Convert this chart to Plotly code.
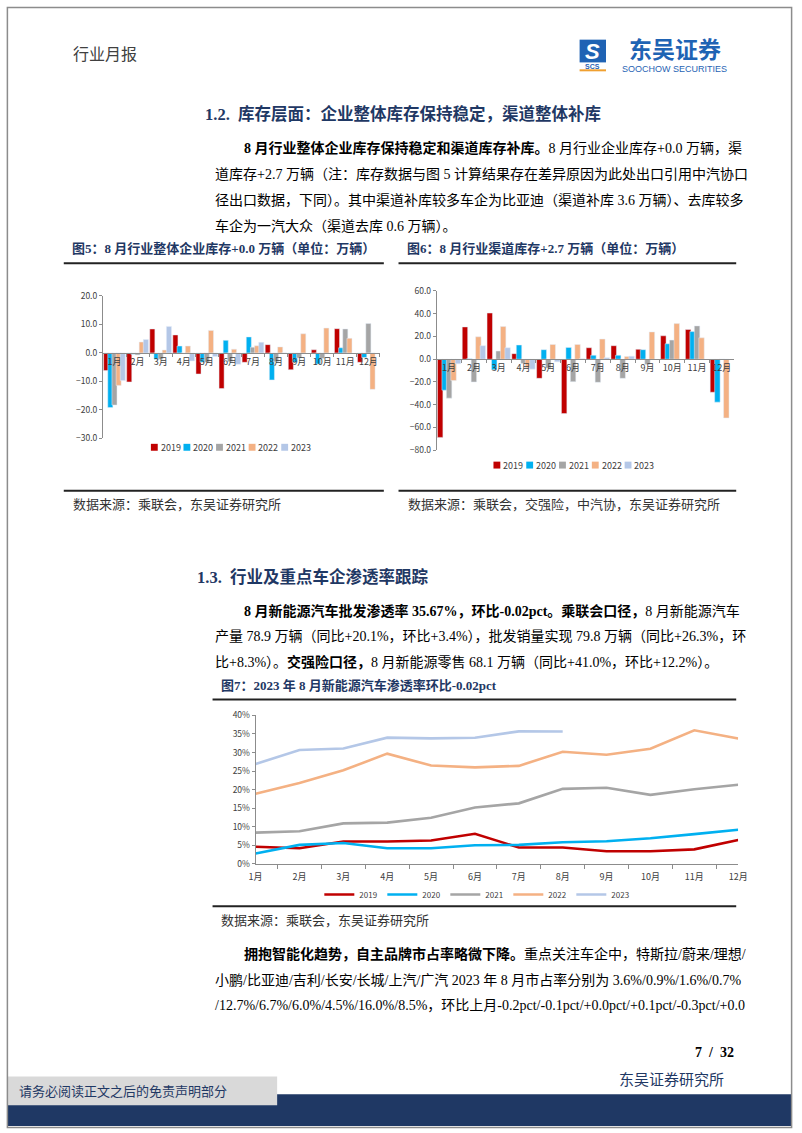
import plotly.graph_objects as go

W, H = 802, 1133

def px(x):
    return x / W

def py(y):
    return 1 - y / H

# ---------------- data ----------------
months = ["1月", "2月", "3月", "4月", "5月", "6月", "7月", "8月", "9月", "10月", "11月", "12月"]
years = ["2019", "2020", "2021", "2022", "2023"]
colors = ["#C00000", "#00B0F0", "#A5A5A5", "#F4B183", "#B4C7E7"]

# Fig5: enterprise inventory change (10k units)
ent_2019 = [-6.2, -10.2, 8.4, 6.3, -7.4, -12.5, -3.3, 2.9, -5.9, 1.1, 8.5, -3.3]
ent_2020 = [-19.2, -0.5, -2.2, 2.4, -3.3, 4.4, 5.6, -9.5, -3.3, -3.9, 1.8, -1.6]
ent_2021 = [-18.3, -0.7, -2.2, -0.2, -3.3, -3.1, 2.0, -3.1, -1.8, -2.0, 8.4, 10.3]
ent_2022 = [-11.4, 3.8, 1.0, 2.4, 7.9, 1.3, 2.5, 2.1, 6.7, 8.7, 5.1, -12.8]
ent_2023 = [-9.7, 4.7, 9.3, -2.8, -1.3, -4.0, 3.7, 0.0, None, None, None, None]

# Fig6: channel inventory change (10k units)
ch_2019 = [-68.7, 28.4, 40.6, 4.9, -16.8, -47.8, 10.1, 11.9, 8.7, 20.6, 26.1, -29.0]
ch_2020 = [-27.2, 0.5, -9.3, 12.5, 8.4, 10.4, 3.5, 3.5, 8.4, 13.6, 24.3, -37.7]
ch_2021 = [-34.2, -20.0, 7.2, -3.8, -7.8, -19.7, -20.3, -16.8, -4.6, 16.8, 29.3, 0.0]
ch_2022 = [-18.8, 19.7, 28.7, -7.5, 13.0, 13.0, 17.7, 2.3, 24.0, 31.3, 18.8, -51.6]
ch_2023 = [-4.0, 11.9, 10.1, -8.7, -2.3, 0.5, 1.4, 2.7, None, None, None, None]

# Fig7: NEV penetration (%)
pen_2019 = [4.6, 4.2, 6.0, 6.0, 6.3, 8.1, 4.4, 4.4, 3.4, 3.4, 3.9, 6.4]
pen_2020 = [2.8, 5.1, 5.6, 4.2, 4.2, 5.0, 5.1, 5.8, 6.1, 6.9, 8.0, 9.2]
pen_2021 = [8.4, 8.8, 10.9, 11.1, 12.4, 15.2, 16.3, 20.2, 20.5, 18.6, 20.1, 21.3]
pen_2022 = [18.9, 21.8, 25.2, 29.7, 26.5, 26.0, 26.4, 30.2, 29.4, 31.0, 36.0, 33.8]
pen_2023 = [26.9, 30.7, 31.1, 34.0, 33.8, 34.0, 35.7, 35.67, None, None, None, None]

ent = [ent_2019, ent_2020, ent_2021, ent_2022, ent_2023]
ch = [ch_2019, ch_2020, ch_2021, ch_2022, ch_2023]
pen = [pen_2019, pen_2020, pen_2021, pen_2022, pen_2023]

CH_FONT = "Noto Sans CJK SC, Noto Sans, sans-serif"
BODY_FONT = "Liberation Serif, Noto Sans CJK SC, serif"
NAVY = "#1F3864"

# bar styling: slightly overlapping bars like the Excel original
BAR_W = 0.22
BAR_STEP = 0.18
BAR_START = -0.47

fig = go.Figure()

for i, yr in enumerate(years):
    fig.add_trace(go.Bar(x=months, y=ent[i], name=yr, marker_color=colors[i],
                         width=BAR_W, offset=BAR_START + i * BAR_STEP,
                         xaxis="x", yaxis="y", showlegend=False))
for i, yr in enumerate(years):
    fig.add_trace(go.Bar(x=months, y=ch[i], name=yr, marker_color=colors[i],
                         width=BAR_W, offset=BAR_START + i * BAR_STEP,
                         xaxis="x2", yaxis="y2", showlegend=False))
for i, yr in enumerate(years):
    fig.add_trace(go.Scatter(x=months, y=pen[i], name=yr, mode="lines",
                             line=dict(color=colors[i], width=2.6),
                             xaxis="x3", yaxis="y3", legend="legend3"))

tickfont = dict(family=CH_FONT, size=9, color="#404040")
ytickfont = dict(family=CH_FONT, size=8.5, color="#404040")
axcol = "#8C8C8C"

# chart 5 geometry
y5_top, y5_bot, y5_rng = 292, 436, [-30, 20]
zero5 = y5_bot - (0 - y5_rng[0]) / (y5_rng[1] - y5_rng[0]) * (y5_bot - y5_top)
# chart 6 geometry
y6_top, y6_bot, y6_rng = 287, 448, [-80, 60]
zero6 = y6_bot - (0 - y6_rng[0]) / (y6_rng[1] - y6_rng[0]) * (y6_bot - y6_top)

fig.update_layout(
    width=W, height=H, autosize=False,
    margin=dict(l=0, r=0, t=0, b=0),
    paper_bgcolor="white", plot_bgcolor="white",
    barmode="overlay",
    showlegend=True,
    xaxis=dict(domain=[px(98), px(381)], anchor="free", position=py(zero5),
               type="category", showline=True, linecolor=axcol, linewidth=1,
               ticks="outside", ticklen=3, tickcolor=axcol, tickson="boundaries",
               tickangle=0, tickfont=tickfont, showgrid=False, zeroline=False),
    yaxis=dict(domain=[py(y5_bot), py(y5_top)], anchor="x", range=y5_rng, dtick=10,
               tickformat=".1f", showline=True, linecolor=axcol, ticks="outside",
               ticklen=3, tickcolor=axcol, tickfont=ytickfont,
               showgrid=False, zeroline=False),
    xaxis2=dict(domain=[px(439), px(743)], anchor="free", position=py(zero6),
                type="category", showline=True, linecolor=axcol, linewidth=1,
                ticks="outside", ticklen=3, tickcolor=axcol, tickson="boundaries",
                tickangle=0, tickfont=tickfont, showgrid=False, zeroline=False),
    yaxis2=dict(domain=[py(y6_bot), py(y6_top)], anchor="x2", range=y6_rng, dtick=20,
                tickformat=".1f", showline=True, linecolor=axcol, ticks="outside",
                ticklen=3, tickcolor=axcol, tickfont=ytickfont,
                showgrid=False, zeroline=False),
    xaxis3=dict(domain=[px(254), px(747)], anchor="y3", type="category",
                showline=True, linecolor=axcol, ticks="outside", ticklen=4,
                tickcolor=axcol, tickson="boundaries", tickangle=0, tickfont=tickfont,
                ticklabelstandoff=4, showgrid=False, zeroline=False),
    yaxis3=dict(domain=[py(866), py(716)], anchor="x3", range=[0, 40], dtick=5,
                ticksuffix="%", showline=True, linecolor=axcol, ticks="outside",
                ticklen=3, tickcolor=axcol, tickfont=ytickfont,
                showgrid=False, zeroline=False),
    legend3=dict(orientation="h", x=px(480), xanchor="center", y=py(897), yanchor="middle",
                 font=dict(family=CH_FONT, size=8, color="#404040"), bgcolor="rgba(0,0,0,0)",
                 itemwidth=30, entrywidth=18, tracegroupgap=0),
)

shapes = []
ann = []

def line(x0, y0, x1, y1, color="#222", width=2):
    shapes.append(dict(type="line", xref="paper", yref="paper",
                       x0=px(x0), y0=py(y0), x1=px(x1), y1=py(y1),
                       line=dict(color=color, width=width)))

def rect(x0, y0, x1, y1, fill, lc=None, lw=0, layer="below"):
    shapes.append(dict(type="rect", xref="paper", yref="paper",
                       x0=px(x0), y0=py(y0), x1=px(x1), y1=py(y1),
                       fillcolor=fill, line=dict(color=lc or fill, width=lw), layer=layer))

def text(x, y, s, size=14, color="#000", family=BODY_FONT, anchor="left"):
    ann.append(dict(xref="paper", yref="paper", x=px(x), y=py(y), text=s,
                    showarrow=False, xanchor=anchor, yanchor="middle",
                    font=dict(family=family, size=size, color=color)))

# compact legends for the two bar charts (symbol squares + labels)
def bar_legend(x_start, y, step):
    for i, yr in enumerate(years):
        x0 = x_start + i * step
        rect(x0, y - 3.5, x0 + 7, y + 3.5, colors[i], layer="above")
        text(x0 + 8, y, yr, size=9, color="#404040", family=CH_FONT)

bar_legend(147, 445, 33.3)
bar_legend(497, 463, 33.5)

# page frame
shapes.append(dict(type="rect", xref="paper", yref="paper", x0=0.0005, y0=0.0005,
                   x1=0.9995, y1=0.9995, line=dict(color="#8C8C8C", width=1.5)))

# header
text(65, 48, "行业月报", size=16, color="#404040")
# logo
rect(585, 33, 612, 56, "#1F63B4")
text(598.5, 44.5, "<b><i>S</i></b>", size=22, color="white", family="Liberation Sans", anchor="center")
text(598.5, 60, "<b>SCS</b>", size=7, color="#1F63B4", family="Liberation Sans", anchor="center")
line(585, 64, 612, 64, color="#F0A030", width=2)
text(682, 41, "<b>东吴证券</b>", size=23, color="#1F63B4", family=CH_FONT, anchor="center")
text(682, 62.5, "SOOCHOW SECURITIES", size=9, color="#1F63B4", family="Liberation Sans", anchor="center")

# section 1.2
text(200, 108, "<b>1.2.  库存层面：企业整体库存保持稳定，渠道整体补库</b>", size=16.5, color=NAVY)
text(240, 143, "<b>8 月行业整体企业库存保持稳定和渠道库存补库。</b>8 月行业企业库存+0.0 万辆，渠", size=14)
text(210, 169, "道库存+2.7 万辆（注：库存数据与图 5 计算结果存在差异原因为此处出口引用中汽协口", size=14)
text(210, 195, "径出口数据，下同）。其中渠道补库较多车企为比亚迪（渠道补库 3.6 万辆）、去库较多", size=14)
text(210, 221, "车企为一汽大众（渠道去库 0.6 万辆）。", size=14)

# figure titles
text(64, 244, "<b>图5：8 月行业整体企业库存+0.0 万辆（单位：万辆）</b>", size=13, color=NAVY)
text(407, 244, "<b>图6：8 月行业渠道库存+2.7 万辆（单位：万辆）</b>", size=13, color=NAVY)
line(58, 259, 385, 259)
line(400, 259, 745, 259)
line(58, 489, 385, 489)
line(400, 489, 745, 489)
text(65, 503, "数据来源：乘联会，东吴证券研究所", size=13, color="#333")
text(408, 503, "数据来源：乘联会，交强险，中汽协，东吴证券研究所", size=13, color="#333")

# section 1.3
text(192, 576, "<b>1.3.  行业及重点车企渗透率跟踪</b>", size=16.5, color=NAVY)
text(240, 610, "<b>8 月新能源汽车批发渗透率 35.67%，环比-0.02pct。乘联会口径，</b>8 月新能源汽车", size=14)
text(210, 636, "产量 78.9 万辆（同比+20.1%，环比+3.4%），批发销量实现 79.8 万辆（同比+26.3%，环", size=14)
text(210, 662, "比+8.3%）。<b>交强险口径，</b>8 月新能源零售 68.1 万辆（同比+41.0%，环比+12.2%）。", size=14)
text(217, 686, "<b>图7：2023 年 8 月新能源汽车渗透率环比-0.02pct</b>", size=13, color=NAVY)
line(210, 700, 745, 700)
line(210, 909, 745, 909)
text(217, 923, "数据来源：乘联会，东吴证券研究所", size=13, color="#333")

# paragraph 3
text(240, 957, "<b>拥抱智能化趋势，自主品牌市占率略微下降。</b>重点关注车企中，特斯拉/蔚来/理想/", size=14)
text(210, 983, "小鹏/比亚迪/吉利/长安/长城/上汽/广汽 2023 年 8 月市占率分别为 3.6%/0.9%/1.6%/0.7%", size=14)
text(210, 1009, "/12.7%/6.7%/6.0%/4.5%/16.0%/8.5%，环比上月-0.2pct/-0.1pct/+0.0pct/+0.1pct/-0.3pct/+0.0", size=14)

# footer
text(745, 1057, "<b>7  /  32</b>", size=14, anchor="right")
text(735, 1084, "东吴证券研究所", size=15, color=NAVY, anchor="right")
rect(0, 1099, W, 1131, NAVY)
rect(0, 1081, 276, 1110, "#D9D9D9")
text(10, 1096, "请务必阅读正文之后的免责声明部分", size=13, color=NAVY)

fig.update_layout(shapes=shapes, annotations=ann)

fig.write_html("out.html", config={"displayModeBar": False},
               post_script="document.body.style.margin='0';")
